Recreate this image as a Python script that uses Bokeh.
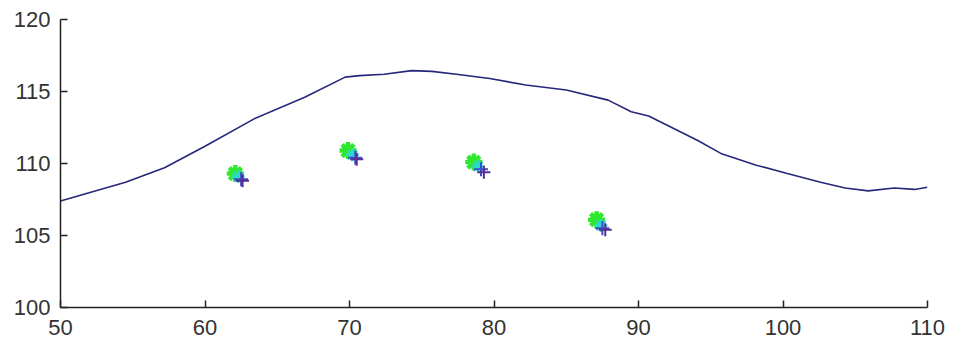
from bokeh.plotting import figure
from bokeh.models import Range1d, FixedTicker
from bokeh.embed import file_html
from bokeh.resources import INLINE

# curve
curve_x = [50, 54.5, 57.2, 60, 63.4, 66.9, 69.7, 70.7, 72.4, 74.3, 75.7, 77.4, 79.7,
           82.2, 85.0, 87.9, 89.5, 90.7, 92.3, 94.1, 95.7, 98.1, 100.3, 102.6, 104.3,
           105.9, 107.7, 109.1, 110]
curve_y = [107.4, 108.7, 109.7, 111.2, 113.1, 114.6, 116.0, 116.1, 116.2, 116.45, 116.4,
           116.2, 115.9, 115.45, 115.1, 114.4, 113.6, 113.3, 112.5, 111.6, 110.7, 109.9,
           109.3, 108.7, 108.3, 108.1, 108.3, 108.2, 108.35]

# marker clusters (four series)
green_x = [62.1, 69.9, 78.6, 87.1]
green_y = [109.3, 110.9, 110.1, 106.1]
cyan_x = [62.3, 70.2, 78.9, 87.4]
cyan_y = [109.1, 110.6, 109.8, 105.7]
blue_x = [62.5, 70.4, 79.1, 87.5]
blue_y = [108.9, 110.4, 109.6, 105.5]
purple_x = [62.6, 70.5, 79.3, 87.7]
purple_y = [108.8, 110.3, 109.4, 105.4]

x_ticks = [50, 60, 70, 80, 90, 100, 110]
y_ticks = [100, 105, 110, 115, 120]

p = figure(width=946, height=343, output_backend="svg", toolbar_location=None,
           x_range=Range1d(50, 110), y_range=Range1d(100, 120),
           min_border_left=60, min_border_right=19, min_border_top=19, min_border_bottom=36)
p.outline_line_color = None
p.xgrid.visible = False
p.ygrid.visible = False
p.background_fill_color = "white"

p.line(curve_x, curve_y, line_color="#26267a", line_width=1.6)

p.scatter(green_x, green_y, marker="asterisk", size=17, line_color="#2ee82e", line_width=4.5)
p.scatter(cyan_x, cyan_y, marker="asterisk", size=13, line_color="#30d8c8", line_width=2.5)
p.scatter(blue_x, blue_y, marker="cross", size=14, line_color="#3a4cd0", line_width=2)
p.scatter(purple_x, purple_y, marker="cross", size=13, line_color="#5a2a90", line_width=2)

for ax in (p.xaxis[0], p.yaxis[0]):
    ax.axis_line_color = "#222222"
    ax.axis_line_width = 1.5
    ax.major_tick_line_color = "#222222"
    ax.major_tick_line_width = 1.5
    ax.major_tick_in = 7
    ax.major_tick_out = 0
    ax.minor_tick_line_color = None
    ax.major_label_text_font = "Liberation Sans"
    ax.major_label_text_font_size = "22px"
    ax.major_label_text_color = "#333333"

p.xaxis.ticker = FixedTicker(ticks=x_ticks)
p.yaxis.ticker = FixedTicker(ticks=y_ticks)
p.xaxis.major_label_standoff = 12
p.yaxis.major_label_standoff = 10

open("out.html", "w").write(file_html(p, INLINE))
